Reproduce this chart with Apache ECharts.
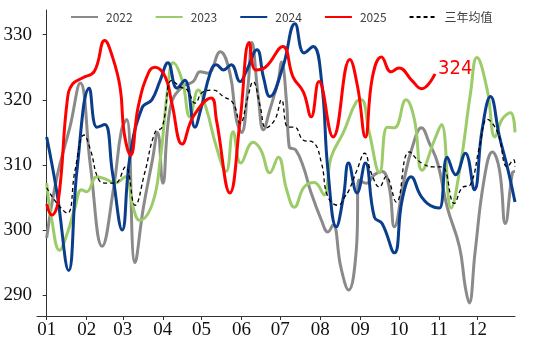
<!DOCTYPE html>
<html><head><meta charset="utf-8">
<script src="https://cdn.jsdelivr.net/npm/echarts@6/dist/echarts.min.js"></script>
<style>html,body{margin:0;padding:0;background:#fff}#c{width:550px;height:344px}</style>
</head><body><div id="c"></div>
<script>
// x positions are day-of-year
const monthLabels = ['01','02','03','04','05','06','07','08','09','10','11','12'];
const monthStartDays = [0,31,59,90,120,151,181,212,243,273,304,334];
const yTicks = [290,300,310,320,330];
const seriesNames = ['2022','2023','2024','2025','三年均值'];

const days2022 = [0,8,18,26,34,43,52,58,62,68.5,75,82,86,90,96,105,113.5,119,125,134.5,142,147,151,156,159,164,168,173,179.5,182,186,188,193,199,205,213,218,222,228,234,240,242,248,254,260,265.5,269.5,277,283.5,290.5,296.5,303,310.5,320,324.5,327.5,332,339,345.5,351,355.5,361,363];
const vals2022 = [298.8,308.2,315.8,322.6,309.7,297.5,306.6,315.4,317,295,303.5,310.8,315,307.2,319,322,322.8,324.3,324.1,327.4,324.1,317,315,322,328.8,320.5,315.4,318.5,323,325.8,319.5,312.8,312.3,309.7,305.7,301.5,299.7,300.8,294.3,290.8,297,307.7,307.2,308.5,309,306.6,300.5,307.7,312.8,315.7,313.4,310.3,303.5,297.4,291.2,288.8,296.5,307.7,312,309.2,301,308.8,309];

const days2023 = [0,4,10,16,22,27,31,39,47,53,61,67,72,82,88,94,98,105,111,117.5,123.5,131.5,139,144.5,150.5,160,166,173,179.5,186,192,199.5,207.5,215,220.5,230,240,244,250,258,264,269.5,278.5,285,291,300.5,306,313.5,320.5,328.5,333.5,341.5,347.5,353,359.5,363];
const vals2023 = [307.2,301.5,296.9,299.5,303.5,306.2,305.9,308.2,307.7,307.2,308.2,303.5,301.5,304.1,310.8,322,325.7,323,317.4,321.5,318.8,312.8,309,315.1,310.3,313.5,312.3,308.8,311.2,306.2,303.5,306.6,307.3,305.4,311.2,315,319.7,320,315,308.8,315.8,315.7,320,317,309.2,313.8,316.2,303.4,309.7,321,326.5,321.5,314.3,317,318,315];

const days2024 = [0,8,17,23.5,33,39,45,51,58.5,64.5,74,81.5,88,94,101,107,115,119,127.5,131.5,137,143,150,154.5,163,168,173,183,192.5,199.5,206.5,213,218,224.5,230,234,240.5,247,254,260,269.5,275.5,282.5,290.5,300.5,304.5,310.5,317,324.5,331.5,337.5,344,351,357,363];
const vals2024 = [314.3,305.7,293.8,309.2,321.8,315.8,316.2,308.8,300,311.2,318.8,320,323,325.7,321.8,323,315.8,318.2,324.6,325.4,324.6,325.4,322.8,324.3,327.7,323.5,320.5,325,331.7,327.2,328.2,323,309.2,300.5,305.1,310.3,305.7,310.3,302,301,296.5,304.6,308.2,305.1,303.5,303.4,311.2,308.5,311.8,306.2,315.4,320.5,314.3,309.7,304.3];

const days2025 = [0,4,9,16,20,28,37,45,51,57,60,65,71,79,84,92,97,105,113.5,127.5,131.5,142,150,157,162,169.5,183,191,199,205,211,222,235,241,247,252.5,259.5,267,273,283,290.5,301];
const vals2025 = [304,302.3,304.5,320,322.4,323.4,324.4,329.1,326.6,321.8,315,311.5,319,324.2,325,323.5,319.5,313.2,317.4,320.3,317,305.7,317,328.8,324.6,325,328.2,323.5,321.2,317.4,322.8,314.3,326.2,322,314.3,323.5,326.6,324.3,324.9,323,321.7,324];

const daysAvg = [0,8,16,22,29,34,40.5,47,53,61,68.5,76,84,89.5,97,103.5,109,115,121,129,137,144.5,150,156,160,165.5,170,177,182,187,192,199,206.5,213,218,226,231,234.5,240.5,246.5,251.5,258,263,271,281,290.5,300.5,306.5,316,322,328.5,335.5,341.5,349.5,357,362,363];
const valsAvg = [306.5,304.1,302.6,309.2,314.6,312.3,307.7,307.2,307.2,309.7,303.8,308.8,315,315.8,323,322,321.5,319.5,321.2,321.5,320.5,319.5,316.4,320.5,322.8,319,315.7,317,320,315.8,315.8,313.8,313.5,310.3,305.1,303.8,305.1,306.2,309.2,311.8,308.8,306.6,308.2,304.3,312,310.3,309.7,309.7,304.1,306.5,307,312.8,317,315,309.7,310.8,309.7];

const colors = ['#8a8a8a','#9ccc6a','#0a3d8c','#ff0000','#000000'];

function zip(d, v){ return d.map((x,i)=>[x, v[i]]); }

const chart = echarts.init(document.getElementById('c'), null, {renderer:'canvas'});
const baseLine = (name, data, color, width, extra) => Object.assign({
  name, type:'line', data, smooth:0.45, symbol:'none', showSymbol:false,
  lineStyle:{color, width}, itemStyle:{color}, animation:false
}, extra||{});

chart.setOption({
  animation:false,
  backgroundColor:'#fff',
  grid:{left:37, right:35, top:10, bottom:28, containLabel:false},
  legend:{
    data:seriesNames, top:6, left:65, itemWidth:27, itemHeight:14, itemGap:22,
    itemStyle:{opacity:0},
    textStyle:{fontSize:12, color:'#404040', padding:[0,0,0,3], fontFamily:"'Noto Sans CJK SC','Noto Sans',sans-serif"}
  },
  xAxis:{
    type:'value', min:-7.5, max:363,
    axisLine:{show:true, lineStyle:{color:'#333', width:1}},
    axisTick:{show:true, length:4, customValues:monthStartDays, lineStyle:{color:'#333'}},
    axisLabel:{customValues:monthStartDays, margin:5, fontSize:19, color:'#111', fontFamily:"'Liberation Serif',serif",
      formatter:(v)=>{const i=monthStartDays.indexOf(Math.round(v)); return i>=0?monthLabels[i]:'';}},
    splitLine:{show:false}
  },
  yAxis:{
    type:'value', min:286.8, max:333.8,
    axisLine:{show:true, lineStyle:{color:'#333', width:1}},
    axisTick:{show:true, length:4, customValues:yTicks, lineStyle:{color:'#333'}},
    axisLabel:{customValues:yTicks, margin:5, fontSize:19, color:'#111', fontFamily:"'Liberation Serif',serif"},
    splitLine:{show:false}
  },
  series:[
    baseLine(seriesNames[0], zip(days2022, vals2022), colors[0], 3),
    baseLine(seriesNames[1], zip(days2023, vals2023), colors[1], 3),
    baseLine(seriesNames[2], zip(days2024, vals2024), colors[2], 3),
    baseLine(seriesNames[3], zip(days2025, vals2025), colors[3], 3, {
      endLabel:{show:true, formatter:(p)=>String(Math.round(p.value[1])), color:'#ff0000', fontSize:20,
        fontFamily:"'DejaVu Sans Condensed','Noto Sans',sans-serif", offset:[0,-5], distance:3}
    }),
    baseLine(seriesNames[4], zip(daysAvg, valsAvg), colors[4], 1.3, {lineStyle:{color:'#000', width:1.3, type:[4,3]}})
  ]
});
</script></body></html>
